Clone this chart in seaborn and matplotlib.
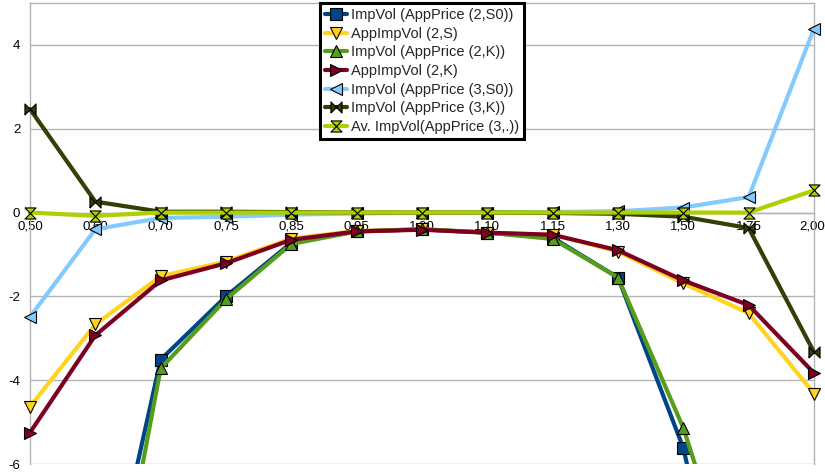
import matplotlib
matplotlib.use("Agg")
import matplotlib.pyplot as plt
import matplotlib.patches as mpatches
import matplotlib.transforms as mtransforms
import seaborn as sns
import pandas as pd
import numpy as np

# strikes (x categories) as printed on the chart
strikes = ["0,50", "0,60", "0,70", "0,75", "0,85", "0,95", "1,00",
           "1,10", "1,15", "1,30", "1,50", "1,75", "2,00"]

names = ["ImpVol (AppPrice (2,S0))", "AppImpVol (2,S)", "ImpVol (AppPrice (2,K))",
         "AppImpVol (2,K)", "ImpVol (AppPrice (3,S0))", "ImpVol (AppPrice (3,K))",
         "Av. ImpVol(AppPrice (3,.))"]

impvol_2_s0 = [-24.0, -10.5, -3.51, -2.00, -0.72, -0.45, -0.40, -0.48, -0.60, -1.55, -5.62, -12.5, -28.0]
appimpvol_2_s = [-4.63, -2.67, -1.52, -1.17, -0.62, -0.44, -0.40, -0.48, -0.53, -0.93, -1.69, -2.40, -4.32]
impvol_2_k = [-27.0, -12.0, -3.72, -2.07, -0.75, -0.45, -0.40, -0.48, -0.63, -1.55, -5.14, -10.0, -24.0]
appimpvol_2_k = [-5.25, -2.93, -1.62, -1.21, -0.65, -0.45, -0.41, -0.48, -0.53, -0.90, -1.62, -2.21, -3.83]
impvol_3_s0 = [-2.49, -0.40, -0.13, -0.10, -0.05, -0.02, -0.01, 0.00, 0.01, 0.03, 0.12, 0.37, 4.39]
impvol_3_k = [2.47, 0.26, 0.02, 0.02, 0.01, 0.00, 0.00, 0.00, -0.01, -0.03, -0.10, -0.37, -3.33]
av_impvol_3 = [0.00, -0.08, 0.00, 0.00, 0.00, 0.00, 0.00, 0.00, 0.00, 0.00, 0.00, 0.00, 0.53]

series = [impvol_2_s0, appimpvol_2_s, impvol_2_k, appimpvol_2_k,
          impvol_3_s0, impvol_3_k, av_impvol_3]

colors = ["#004586", "#ffd320", "#579d1c", "#7e0021", "#83caff", "#314004", "#aecf00"]
bowtie = [(-1, -1), (1, 1), (1, -1), (-1, 1), (-1, -1)]
hourglass = [(-1, 1), (1, 1), (-1, -1), (1, -1), (-1, 1)]
marks = ["s", "v", "^", ">", "<", bowtie, hourglass]

df = pd.DataFrame({
    "pos": np.tile(np.arange(len(strikes)), len(names)),
    "series": np.repeat(names, len(strikes)),
    "value": np.concatenate(series),
})

sns.set_theme(style="white")
plt.rcParams['font.family'] = ['Liberation Sans', 'DejaVu Sans']
plt.rcParams['axes.unicode_minus'] = False

fig = plt.figure(figsize=(8.25, 4.73), dpi=100)
ax = fig.add_axes([30 / 825, 9 / 473, 784 / 825, 461 / 473])

sns.lineplot(data=df, x="pos", y="value", hue="series", style="series",
             hue_order=names, style_order=names,
             palette=dict(zip(names, colors)), markers=dict(zip(names, marks)),
             dashes=False, sort=False, errorbar=None, legend=False,
             linewidth=3, markersize=8, markeredgecolor="black",
             markeredgewidth=0.8, ax=ax)

lines = ax.get_lines()[:len(names)]
# clip lines at top/bottom only, so the markers at both ends stay whole
clip = mpatches.Rectangle((-0.03, 0), 1.06, 1, transform=ax.transAxes,
                          facecolor="none", edgecolor="none")
for ln in lines:
    ln.set_clip_path(clip)

ax.set_xlim(0, len(strikes) - 1)
ax.set_ylim(-6, 5)
ax.set_yticks([-6, -4, -2, 0, 2, 4])
ax.set_xticks(range(len(strikes)))
ax.set_xticklabels(strikes)
ax.set_xlabel("")
ax.set_ylabel("")

ax.yaxis.grid(True, color="#b3b3b3", linewidth=1)
ax.xaxis.grid(False)
ax.set_axisbelow(True)
ax.spines["bottom"].set_position(("data", 0))
for sp in ax.spines.values():
    sp.set_color("#b3b3b3")
    sp.set_linewidth(1)
    sp.set_zorder(0.6)
ax.tick_params(axis="both", length=0, labelsize=9.5, colors="black")
ax.tick_params(axis="x", pad=6)
ax.tick_params(axis="y", pad=7)

# keep the last label inside the picture
last = ax.get_xticklabels()[-1]
last.set_transform(last.get_transform() +
                   mtransforms.ScaledTranslation(-0.02, 0, fig.dpi_scale_trans))

leg = ax.legend(lines, names, loc="upper center", bbox_to_anchor=(0.5, 1.0),
                frameon=True, fancybox=False, framealpha=1, edgecolor="black",
                borderaxespad=0, fontsize=10.5, handlelength=1.5,
                handletextpad=0.25, borderpad=0.35, labelspacing=0.32,
                numpoints=1)
leg.get_frame().set_linewidth(2.2)

plt.savefig("out.png", dpi=100)
